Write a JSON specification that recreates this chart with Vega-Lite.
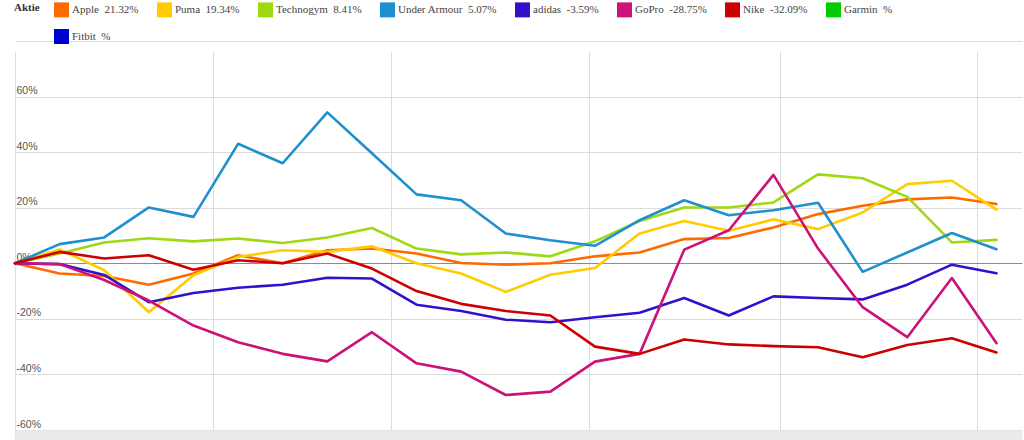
{
  "$schema": "https://vega.github.io/schema/vega-lite/v6.json",
  "autosize": "none",
  "width": 1007,
  "height": 389,
  "padding": {"left": 15, "top": 41, "right": 2, "bottom": 10},
  "background": "white",
  "config": {
    "view": {"stroke": null},
    "axisY": {
      "domain": false, "ticks": false, "tickSize": 0,
      "labelAlign": "left", "labelBaseline": "bottom", "labelPadding": -1, "labelOffset": -1,
      "labelFont": "Liberation Sans", "labelFontSize": 10.5, "labelColor": "#555",
      "gridColor": "#dcdcdc"
    },
    "axisX": {
      "labels": false, "ticks": false, "domain": true, "domainColor": "#ebebeb", "domainWidth": 20, "offset": 10,
      "grid": true, "gridColor": "#dcdcdc", "gridWidth": 1
    }
  },
  "encoding": {
    "x": {"field": "Datum", "type": "temporal", "title": null,
      "scale": {"domain": [{"year": 2017, "month": 1, "date": 1}, {"year": 2017, "month": 6, "date": 8}]},
      "axis": {"tickCount": {"interval": "month", "step": 1}}},
    "y": {"field": "Wert", "type": "quantitative", "title": null,
      "scale": {"domain": [-60, 80], "nice": false},
      "axis": {"values": [-60, -40, -20, 0, 20, 40, 60, 80], "labelExpr": "datum.value == 80 ? '' : datum.value + '%'",
        "gridColor": {"condition": {"test": "datum.value === 0", "value": "#8c8c8c"}, "value": "#dcdcdc"}}}
  },
  "layer": [
    {
      "data": {"values": [
        {"Datum": "2017-01-01T00:00", "Apple": 0, "Puma": 0, "Technogym": 0, "Under Armour": 0, "adidas": 0, "GoPro": 0, "Nike": 0},
        {"Datum": "2017-01-08T00:00", "Apple": -3.7, "Puma": 5, "Technogym": 3.5, "Under Armour": 6.9, "adidas": -0.3, "GoPro": -0.3, "Nike": 4.1},
        {"Datum": "2017-01-15T00:00", "Apple": -4.6, "Puma": -2.5, "Technogym": 7.5, "Under Armour": 9.3, "adidas": -4.2, "GoPro": -6, "Nike": 1.7},
        {"Datum": "2017-01-22T00:00", "Apple": -7.7, "Puma": -17.6, "Technogym": 9, "Under Armour": 20.1, "adidas": -14, "GoPro": -13.4, "Nike": 2.9},
        {"Datum": "2017-01-29T00:00", "Apple": -3.7, "Puma": -4.3, "Technogym": 7.9, "Under Armour": 16.7, "adidas": -10.7, "GoPro": -22.4, "Nike": -2.3},
        {"Datum": "2017-02-05T00:00", "Apple": 2.9, "Puma": 2.3, "Technogym": 8.9, "Under Armour": 43, "adidas": -8.8, "GoPro": -28.4, "Nike": 1.1},
        {"Datum": "2017-02-12T00:00", "Apple": 0, "Puma": 4.7, "Technogym": 7.3, "Under Armour": 36, "adidas": -7.7, "GoPro": -32.6, "Nike": 0},
        {"Datum": "2017-02-19T00:00", "Apple": 4.7, "Puma": 4.1, "Technogym": 9.3, "Under Armour": 54.3, "adidas": -5.2, "GoPro": -35.3, "Nike": 3.5},
        {"Datum": "2017-02-26T00:00", "Apple": 5.3, "Puma": 6.1, "Technogym": 12.7, "Under Armour": 39.6, "adidas": -5.5, "GoPro": -24.8, "Nike": -1.9},
        {"Datum": "2017-03-05T00:00", "Apple": 3.5, "Puma": 0, "Technogym": 5.3, "Under Armour": 24.8, "adidas": -14.9, "GoPro": -36, "Nike": -10},
        {"Datum": "2017-03-12T00:00", "Apple": 0.1, "Puma": -3.7, "Technogym": 3.2, "Under Armour": 22.7, "adidas": -17.2, "GoPro": -39, "Nike": -14.6},
        {"Datum": "2017-03-19T00:00", "Apple": -0.5, "Puma": -10.3, "Technogym": 3.9, "Under Armour": 10.7, "adidas": -20.3, "GoPro": -47.4, "Nike": -17.2},
        {"Datum": "2017-03-26T00:00", "Apple": 0, "Puma": -4.1, "Technogym": 2.5, "Under Armour": 8.3, "adidas": -21.2, "GoPro": -46.2, "Nike": -18.8},
        {"Datum": "2017-04-02T00:00", "Apple": 2.5, "Puma": -1.7, "Technogym": 7.9, "Under Armour": 6.3, "adidas": -19.4, "GoPro": -35.4, "Nike": -30},
        {"Datum": "2017-04-09T00:00", "Apple": 3.9, "Puma": 10.7, "Technogym": 15.2, "Under Armour": 15.5, "adidas": -17.8, "GoPro": -32.6, "Nike": -32.6},
        {"Datum": "2017-04-16T00:00", "Apple": 8.7, "Puma": 15.2, "Technogym": 20.1, "Under Armour": 22.7, "adidas": -12.5, "GoPro": 4.9, "Nike": -27.4},
        {"Datum": "2017-04-23T00:00", "Apple": 9.1, "Puma": 11.7, "Technogym": 20.1, "Under Armour": 17.3, "adidas": -18.8, "GoPro": 11.9, "Nike": -29.2},
        {"Datum": "2017-04-30T00:00", "Apple": 12.9, "Puma": 15.8, "Technogym": 21.9, "Under Armour": 19.1, "adidas": -11.9, "GoPro": 31.8, "Nike": -29.8},
        {"Datum": "2017-05-07T00:00", "Apple": 17.7, "Puma": 12.3, "Technogym": 32, "Under Armour": 21.8, "adidas": -12.5, "GoPro": 5.3, "Nike": -30.2},
        {"Datum": "2017-05-14T00:00", "Apple": 20.7, "Puma": 18.3, "Technogym": 30.6, "Under Armour": -3.1, "adidas": -13, "GoPro": -15.8, "Nike": -33.8},
        {"Datum": "2017-05-21T00:00", "Apple": 23, "Puma": 28.5, "Technogym": 23.9, "Under Armour": 3.9, "adidas": -7.7, "GoPro": -26.6, "Nike": -29.4},
        {"Datum": "2017-05-28T00:00", "Apple": 23.7, "Puma": 29.7, "Technogym": 7.5, "Under Armour": 10.9, "adidas": -0.5, "GoPro": -5.3, "Nike": -27},
        {"Datum": "2017-06-04T00:00", "Apple": 21.32, "Puma": 19.34, "Technogym": 8.41, "Under Armour": 5.07, "adidas": -3.59, "GoPro": -28.75, "Nike": -32.09}
      ]},
      "transform": [{"fold": ["Apple", "Puma", "Technogym", "Under Armour", "adidas", "GoPro", "Nike"], "as": ["Aktie", "Wert"]}],
      "mark": {"type": "line", "strokeWidth": 2.6, "strokeJoin": "round", "strokeCap": "round"},
      "encoding": {
        "color": {"field": "Aktie", "type": "nominal", "title": "Aktie",
          "scale": {
            "domain": ["Apple", "Puma", "Technogym", "Under Armour", "adidas", "GoPro", "Nike", "Garmin", "Fitbit"],
            "range": ["#ff6a00", "#ffcc00", "#a0d911", "#1f90cf", "#3311cc", "#cc1177", "#cc0000", "#00cc00", "#0000cc"]
          },
          "legend": {
            "orient": "none", "legendX": -1, "legendY": -39, "padding": 0,
            "direction": "horizontal", "columns": 8, "columnPadding": 6, "rowPadding": -18,
            "titleOrient": "left", "titleAnchor": "start", "titlePadding": 14, "titleFont": "Liberation Serif", "titleFontSize": 11, "titleFontWeight": "bold", "titleColor": "#333",
            "labelFont": "Liberation Serif", "labelFontSize": 11, "labelColor": "#444", "labelOffset": 3, "labelLimit": 200,
            "symbolType": "square", "symbolSize": 56, "symbolStrokeWidth": 7.5, "symbolOpacity": 1,
            "labelExpr": "datum.label == 'Apple' ? 'Apple\u00a0 21.32%' : datum.label == 'Puma' ? 'Puma\u00a0 19.34%' : datum.label == 'Technogym' ? 'Technogym\u00a0 8.41%' : datum.label == 'Under Armour' ? 'Under Armour\u00a0 5.07%' : datum.label == 'adidas' ? 'adidas\u00a0 -3.59%' : datum.label == 'GoPro' ? 'GoPro\u00a0 -28.75%' : datum.label == 'Nike' ? 'Nike\u00a0 -32.09%' : datum.label + '\u00a0 %'"
          }
        }
      }
    }
  ]
}
